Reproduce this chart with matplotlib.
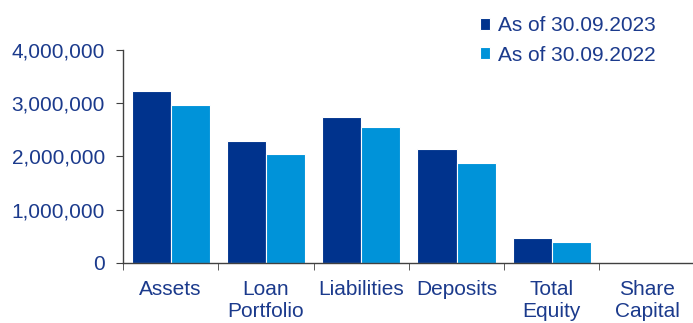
import matplotlib.pyplot as plt
import numpy as np
from matplotlib.ticker import FuncFormatter, FixedLocator

plt.rcParams['font.family'] = ['Liberation Sans', 'DejaVu Sans']

# balance sheet figures
categories = ['Assets', 'Loan\nPortfolio', 'Liabilities', 'Deposits', 'Total\nEquity', 'Share\nCapital']
sep_2023 = [3230000, 2290000, 2740000, 2140000, 476000, 0]
sep_2022 = [2960000, 2040000, 2550000, 1880000, 395000, 0]
labels = ['As of 30.09.2023', 'As of 30.09.2022']

dark = '#00338D'
light = '#0093D9'
txt = '#1B3A8C'

fig = plt.figure(figsize=(6.93, 3.23), dpi=100)
ax = fig.add_axes([0.1775, 0.186, 0.825, 0.659])

x = np.arange(len(categories))
w = 0.41
b1 = ax.bar(x - w / 2, sep_2023, w, color=dark, edgecolor='white', linewidth=0.8, label=labels[0])
b2 = ax.bar(x + w / 2, sep_2022, w, color=light, edgecolor='white', linewidth=0.8, label=labels[1])

ax.set_xlim(-0.5, len(categories) - 0.5)
ax.set_ylim(0, 4000000)
ax.set_yticks([0, 1000000, 2000000, 3000000, 4000000])
ax.yaxis.set_major_formatter(FuncFormatter(lambda v, p: f'{int(v):,}'))

# category labels centred, ticks on the boundaries
ax.set_xticks(x)
ax.set_xticklabels(categories, color=txt, fontsize=15, linespacing=1.2)
ax.tick_params(axis='x', which='major', length=0, pad=12)
ax.xaxis.set_minor_locator(FixedLocator(np.arange(len(categories)) - 0.5))
ax.tick_params(axis='x', which='minor', length=5, direction='out', color='#404040')
ax.tick_params(axis='y', length=5, direction='out', color='#404040', labelcolor=txt, labelsize=15, pad=8)

for s in ['top', 'right']:
    ax.spines[s].set_visible(False)
for s in ['left', 'bottom']:
    ax.spines[s].set_color('#404040')
    ax.spines[s].set_linewidth(1.0)

fig.legend(handles=[b1, b2], loc='upper left', bbox_to_anchor=(0.665, 1.008),
           frameon=False, fontsize=15, labelcolor=txt,
           handlelength=0.5, handleheight=0.5, handletextpad=0.4, labelspacing=0.5)

fig.savefig('out.png', dpi=100)
